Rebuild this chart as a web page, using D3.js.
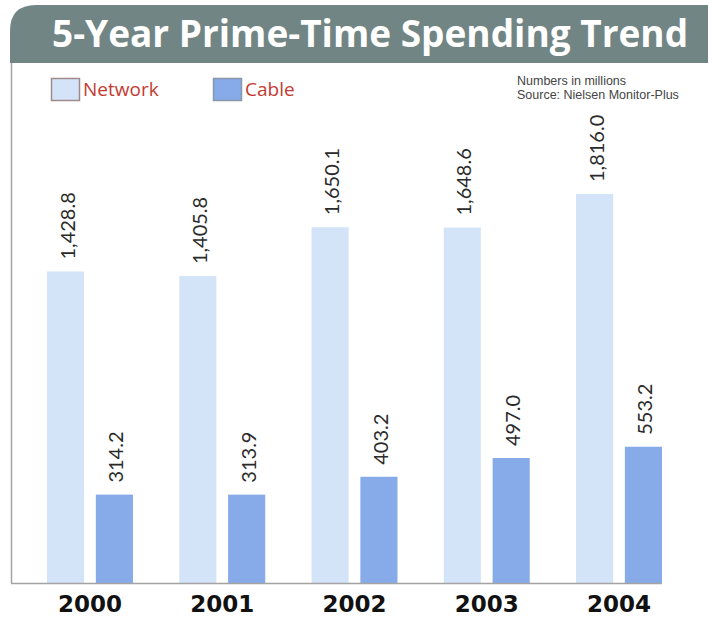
<!DOCTYPE html>
<html>
<head>
<meta charset="utf-8">
<script src="https://cdn.jsdelivr.net/npm/d3@7"></script>
<style>
  html, body { margin: 0; padding: 0; background: #fff; overflow: hidden; }
  svg { display: block; }
</style>
</head>
<body>
<script>
const years = ["2000", "2001", "2002", "2003", "2004"];
const seriesNames = ["Network", "Cable"];
const networkValues = [1428.8, 1405.8, 1650.1, 1648.6, 1816.0];
const cableValues = [314.2, 313.9, 403.2, 497.0, 553.2];
const valueLabels = {
  Network: ["1,428.8", "1,405.8", "1,650.1", "1,648.6", "1,816.0"],
  Cable: ["314.2", "313.9", "403.2", "497.0", "553.2"]
};
const titleText = "5-Year Prime-Time Spending Trend";
const noteLines = ["Numbers in millions", "Source: Nielsen Monitor-Plus"];

const W = 714, H = 618;
const colors = { Network: "#d4e4f8", Cable: "#87aae8" };
const strokes = { Network: "#a08a8a", Cable: "#8a97aa" };

const svg = d3.select("body").append("svg").attr("width", W).attr("height", H);

// Banner with rounded top-left corner
const bx0 = 10, by0 = 5, bx1 = 708, by1 = 63, r = 26;
svg.append("path")
  .attr("d", `M${bx0},${by1} L${bx0},${by0 + r} Q${bx0},${by0} ${bx0 + r},${by0} L${bx1},${by0} L${bx1},${by1} Z`)
  .attr("fill", "#718585");
svg.append("text")
  .attr("x", 52).attr("y", 47)
  .attr("font-family", "'Open Sans', sans-serif")
  .attr("font-weight", 700)
  .attr("font-size", 37)
  .attr("fill", "#ffffff")
  .text(titleText);

// Data table
const data = years.map((y, i) => ({ year: y, Network: networkValues[i], Cable: cableValues[i] }));

const baseY = 583;
const x0 = d3.scaleBand().domain(years).range([47, 662]).paddingInner(0.35).paddingOuter(0);
const x1 = d3.scaleBand().domain(seriesNames).range([0, x0.bandwidth()]).paddingInner(0.24);
const y = d3.scaleLinear().domain([-127.5, 1816]).range([baseY, 194]);

// Frame line (left)
svg.append("line").attr("x1", 11.5).attr("x2", 11.5).attr("y1", by1).attr("y2", baseY)
  .attr("stroke", "#a3a3a3").attr("stroke-width", 1.5);

const groups = svg.append("g").selectAll("g").data(data).join("g")
  .attr("transform", d => `translate(${x0(d.year)},0)`);

groups.selectAll("rect").data(d => seriesNames.map(s => ({ s, v: d[s] }))).join("rect")
  .attr("x", d => x1(d.s))
  .attr("width", x1.bandwidth())
  .attr("y", d => y(d.v))
  .attr("height", d => baseY - y(d.v))
  .attr("fill", d => colors[d.s]);

groups.selectAll("text.val").data((d, i) => seriesNames.map(s => ({ s, v: d[s], label: valueLabels[s][i] }))).join("text")
  .attr("class", "val")
  .attr("transform", d => `translate(${x1(d.s) + x1.bandwidth() / 2 + 1},${y(d.v) - 12}) rotate(-90)`)
  .attr("dominant-baseline", "central")
  .attr("font-family", "Lato, 'Open Sans', sans-serif")
  .attr("font-size", 20)
  .attr("fill", "#2a2a2a")
  .text(d => d.label);

// bottom axis line
svg.append("line").attr("x1", 11).attr("x2", 662).attr("y1", baseY + 0.5).attr("y2", baseY + 0.5)
  .attr("stroke", "#a3a3a3").attr("stroke-width", 1.5);

// Year labels via axis
const xAxis = svg.append("g").attr("transform", `translate(0,${baseY})`)
  .call(d3.axisBottom(x0).tickSize(0).tickPadding(0));
xAxis.select(".domain").remove();
xAxis.selectAll("text")
  .attr("y", 29)
  .attr("dy", 0)
  .attr("font-family", "'DejaVu Sans', sans-serif")
  .attr("font-weight", 700)
  .attr("font-size", 23)
  .attr("fill", "#111");

// Legend
const legendPos = { Network: 51, Cable: 213 };
const legend = svg.append("g");
seriesNames.forEach(s => {
  legend.append("rect")
    .attr("x", legendPos[s] + 0.5).attr("y", 78.5).attr("width", 28).attr("height", 22)
    .attr("fill", colors[s]).attr("stroke", strokes[s]).attr("stroke-width", 1.5);
  legend.append("text")
    .attr("x", legendPos[s] + 32).attr("y", 96)
    .attr("font-family", "'Open Sans', sans-serif")
    .attr("font-size", 19)
    .attr("fill", "#c43a32")
    .text(s);
});

// Notes
svg.append("g").selectAll("text").data(noteLines).join("text")
  .attr("x", 517).attr("y", (d, i) => 85 + i * 14)
  .attr("font-family", "'Liberation Sans', Arial, sans-serif")
  .attr("font-size", 12.5)
  .attr("fill", "#444")
  .text(d => d);
</script>
</body>
</html>
